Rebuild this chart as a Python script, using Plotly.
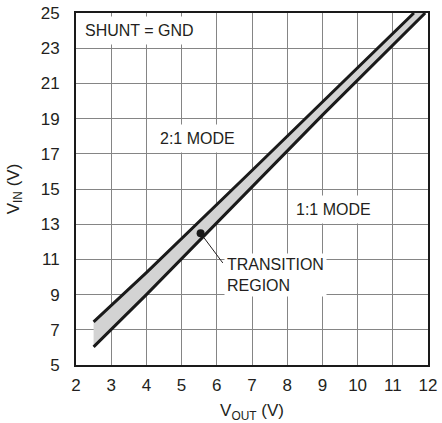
import plotly.graph_objects as go

# ---- data ----
upper_vout = [2.5, 4.0, 7.0, 11.6]
upper_vin = [7.45, 10.25, 16.05, 25.0]
lower_vout = [2.5, 4.0, 9.0, 11.92]
lower_vin = [6.03, 9.0, 19.2, 25.0]
transition_vout = [5.54]
transition_vin = [12.48]

x_ticks = [2, 3, 4, 5, 6, 7, 8, 9, 10, 11, 12]
y_ticks = [5, 7, 9, 11, 13, 15, 17, 19, 21, 23, 25]

FONT = "Liberation Sans, Arial, sans-serif"
TXT = "#231f20"

fig = go.Figure()

# shaded band
fig.add_trace(go.Scatter(
    x=upper_vout + lower_vout[::-1],
    y=upper_vin + lower_vin[::-1],
    fill="toself", fillcolor="#d3d3d3", line=dict(width=0),
    mode="lines", hoverinfo="skip", showlegend=False))

fig.add_trace(go.Scatter(x=upper_vout, y=upper_vin, mode="lines",
                         line=dict(color="#1a1a1a", width=3), showlegend=False))
fig.add_trace(go.Scatter(x=lower_vout, y=lower_vin, mode="lines",
                         line=dict(color="#1a1a1a", width=3), showlegend=False))
fig.add_trace(go.Scatter(x=transition_vout, y=transition_vin, mode="markers",
                         marker=dict(color="#1a1a1a", size=8), showlegend=False))

# leader line from dot to label
fig.add_shape(type="line", x0=5.64, y0=12.22, x1=6.17, y1=10.8,
              line=dict(color=TXT, width=1))

def label(x, y, text, xanchor="center", pad=5):
    fig.add_annotation(x=x, y=y, text=text, showarrow=False, xanchor=xanchor,
                       align="left", bgcolor="white", borderpad=pad,
                       font=dict(family=FONT, size=16, color=TXT))

label(3.79, 24.03, "SHUNT = GND")
label(5.45, 17.85, "2:1 MODE")
label(9.31, 13.85, "1:1 MODE")
label(6.2, 10.11, "TRANSITION<br>REGION", xanchor="left", pad=2)

axis_common = dict(showgrid=True, gridcolor="#858585", gridwidth=1.3,
                   showline=True, linecolor="#1a1a1a", linewidth=2, mirror=True,
                   ticks="", zeroline=False, automargin=False,
                   tickfont=dict(family=FONT, size=17, color=TXT))

fig.update_xaxes(range=[2, 12], tickvals=x_ticks,
                 title=dict(text="V<sub>OUT</sub> (V)", standoff=13,
                            font=dict(family=FONT, size=17, color=TXT)),
                 ticklabelstandoff=4, **axis_common)
fig.update_yaxes(range=[5, 25], tickvals=y_ticks,
                 title=dict(text="V<sub>IN</sub> (V)", standoff=17,
                            font=dict(family=FONT, size=17, color=TXT)),
                 ticklabelstandoff=11, **axis_common)

fig.update_layout(width=442, height=423,
                  margin=dict(l=76, r=14, t=13, b=58),
                  plot_bgcolor="white", paper_bgcolor="white",
                  font=dict(family=FONT, color=TXT))

fig.write_html("out.html", config={"displayModeBar": False},
               post_script="document.body.style.margin='0px';document.body.style.overflow='hidden';")
